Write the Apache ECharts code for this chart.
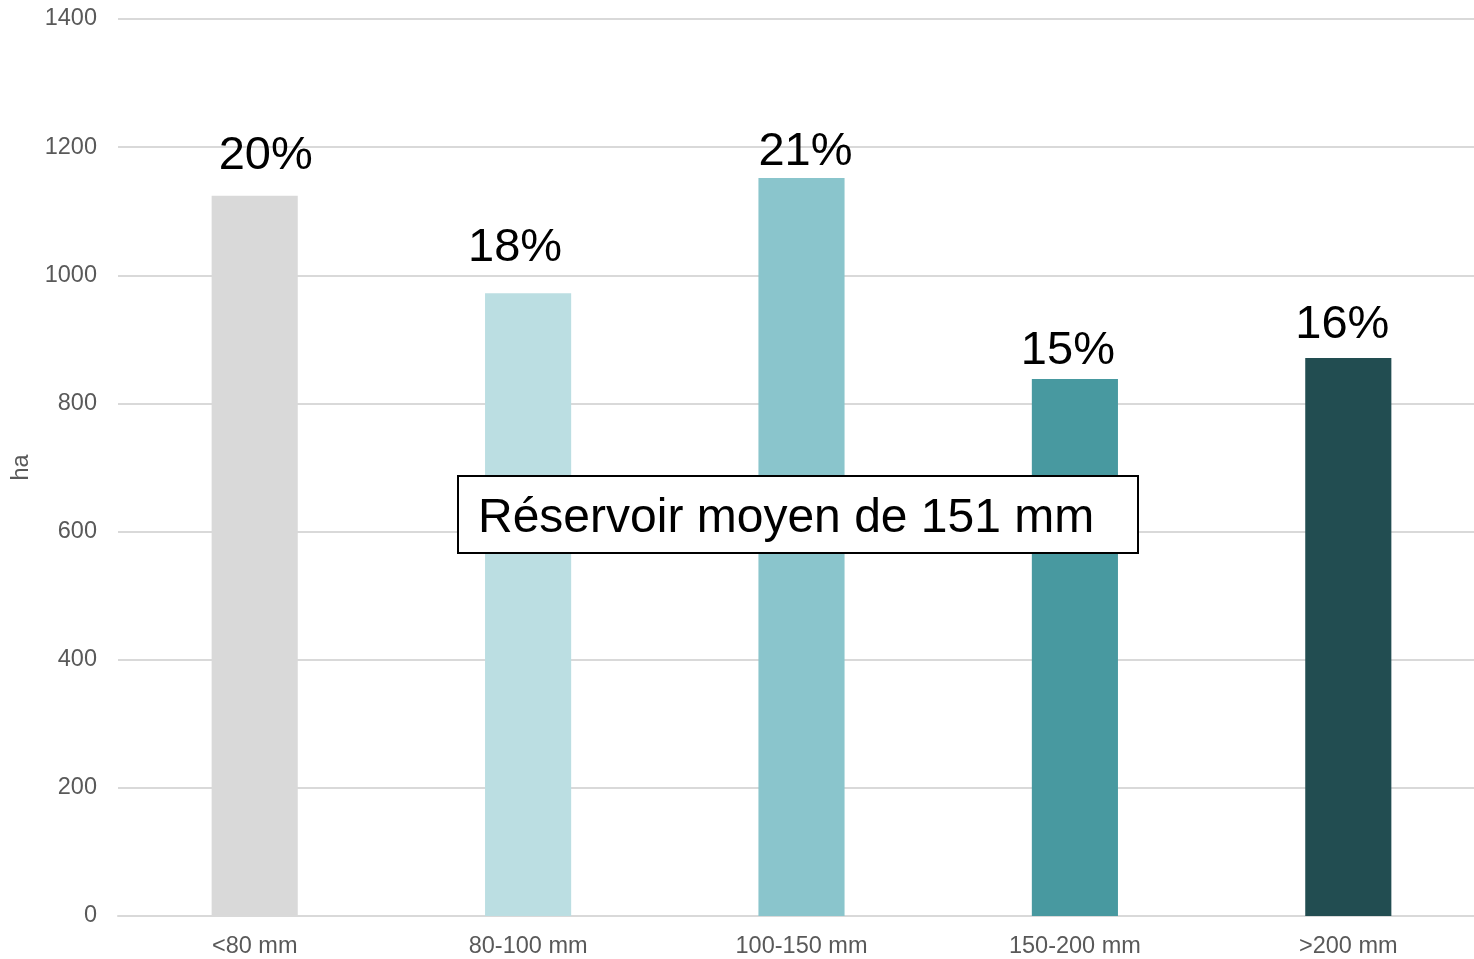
<!DOCTYPE html>
<html>
<head>
<meta charset="utf-8">
<script src="https://cdn.jsdelivr.net/npm/echarts@6/dist/echarts.min.js"></script>
<style>html,body{margin:0;padding:0;background:#fff}#c{width:1474px;height:959px}</style>
</head>
<body>
<div id="c"></div>
<script>
const categories = ['<80 mm', '80-100 mm', '100-150 mm', '150-200 mm', '>200 mm'];
const values = [1124, 972, 1152, 838, 871];
const percentLabels = ['20%', '18%', '21%', '15%', '16%'];
const yTicks = [0, 200, 400, 600, 800, 1000, 1200, 1400];
const annotation = 'Réservoir moyen de 151 mm';

// styling (kept apart from data)
const barColors = ['#D9D9D9', '#BBDEE2', '#8AC5CC', '#4899A0', '#224D51'];
const labelNudges = [[11, -8], [-13, -14], [4, 6], [-7, 3], [-6, -1]];

const chart = echarts.init(document.getElementById('c'));
const font = '"Liberation Sans", Arial, sans-serif';
chart.setOption({
  animation: false,
  textStyle: { fontFamily: font },
  grid: { left: 118, right: -11, top: 19, bottom: 43, containLabel: false, outerBoundsMode: 'none' },
  xAxis: {
    type: 'category',
    data: categories,
    axisLine: { show: true, lineStyle: { color: '#D9D9D9', width: 2 } },
    axisTick: { show: false },
    axisLabel: { color: '#595959', fontSize: 23.5, fontFamily: font, margin: 19 }
  },
  yAxis: {
    type: 'value',
    min: yTicks[0], max: yTicks[yTicks.length - 1], interval: yTicks[1] - yTicks[0],
    name: 'ha',
    nameLocation: 'middle',
    nameGap: 84,
    nameTextStyle: { color: '#595959', fontSize: 23.5, fontFamily: font },
    axisLine: { show: false },
    axisTick: { show: false },
    axisLabel: { color: '#595959', fontSize: 23.5, fontFamily: font, margin: 21, formatter: v => String(v) },
    splitLine: { lineStyle: { color: '#D9D9D9', width: 2 } }
  },
  series: [{
    type: 'bar',
    barWidth: '31.5%',
    data: values.map((v, i) => ({
      value: v,
      itemStyle: { color: barColors[i] },
      label: { offset: labelNudges[i] }
    })),
    label: {
      show: true,
      position: 'top',
      distance: 8,
      color: '#000',
      fontSize: 47,
      fontFamily: font,
      formatter: p => percentLabels[p.dataIndex]
    }
  }],
  graphic: [{
    type: 'text',
    left: 457,
    top: 475,
    style: {
      text: annotation,
      font: '48px "Liberation Sans", Arial, sans-serif',
      fill: '#000',
      backgroundColor: '#fff',
      borderColor: '#000',
      borderWidth: 2,
      padding: [18, 44, 9, 19],
      width: 615,
      height: 48
    },
    z: 100
  }]
});
</script>
</body>
</html>
